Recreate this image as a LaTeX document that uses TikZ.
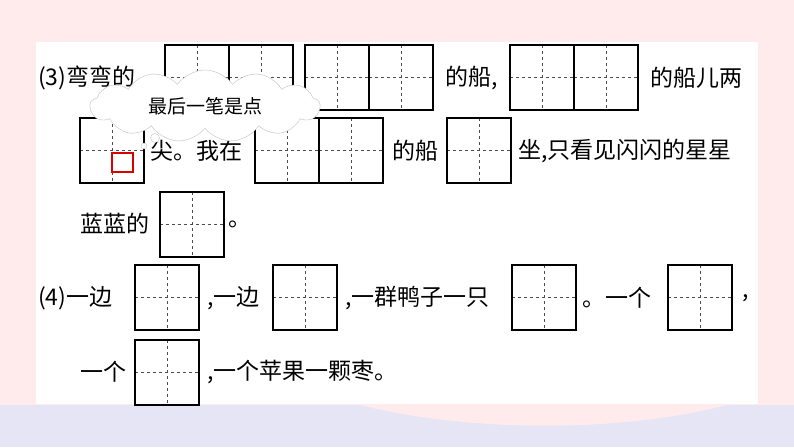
\documentclass[tikz,border=0pt]{standalone}
\usepackage{fontspec}
\setmainfont{Liberation Serif}
\newfontfamily\cjk{Noto Sans CJK SC}
\usetikzlibrary{positioning,shapes.symbols}
\tikzstyle{txt}=[anchor=west,inner sep=0pt,font=\cjk\fontsize{23}{23}\selectfont]
\tikzstyle{cell}=[draw=black,line width=1.1pt]
\tikzstyle{guide}=[draw=black!70,dashed,line width=0.5pt]
\tikzstyle{bubble}=[cloud,cloud puffs=13,cloud puff arc=110,aspect=3.4,draw=black!25,fill=white,
  font=\cjk\fontsize{19}{19}\selectfont,inner sep=2pt]
\newcommand{\tianzi}[4]{% name, left x, top y, cells
  \foreach \k in {1,...,#4}{
    \draw [guide] (#2+64*\k-32, #3) -- (#2+64*\k-32, #3+65);
    \draw [guide] (#2+64*\k-64, #3+32.5) -- (#2+64*\k, #3+32.5);
    \draw [cell] (#2+64*\k-64, #3) rectangle (#2+64*\k, #3+65);
  }
  \coordinate (#1) at (#2, #3);
}
\begin{document}
\begin{tikzpicture}[x=1pt,y=-1pt]
  \fill [red!8] (0,0) rectangle (794,447);
  \fill [cyan!25!blue!10] (0,405) rectangle (794,447);
  \fill [red!8] (360,405) .. controls (500,440) and (700,430) .. (794,380) -- (794,405) -- cycle;
  \fill [white] (36,42) rectangle (758,404);

  % row 1
  \node [txt] (r1a) at (38,78) {(3)弯弯的};
  \tianzi{b1}{165}{45}{2}
  \tianzi{b2}{305}{45}{2}
  \node [txt] (r1b) at (445,78) {的船,};
  \tianzi{b3}{510}{45}{2}
  \node [txt] (r1c) at (650,78) {的船儿两};

  % row 2
  \tianzi{b4}{80}{118}{1}
  \node [txt] (r2a) at (150,151) {尖。我在};
  \tianzi{b5}{255}{118}{2}
  \node [txt] (r2b) at (392,151) {的船};
  \tianzi{b6}{447}{118}{1}
  \node [txt] (r2c) at (518,151) {坐,只看见闪闪的星星};
  \draw [red!85!black,line width=2pt] (112,153) rectangle (133,172);

  % row 3
  \node [txt] (r3a) at (80,224) {蓝蓝的};
  \tianzi{b7}{160}{192}{1}
  \node [txt] (r3b) at (228,224) {。};

  % row 4
  \node [txt] (r4a) at (38,298) {(4)一边};
  \tianzi{b8}{135}{265}{1}
  \node [txt] (r4b) at (207,298) {,一边};
  \tianzi{b9}{273}{265}{1}
  \node [txt] (r4c) at (345,298) {,一群鸭子一只};
  \tianzi{b10}{512}{265}{1}
  \node [txt] (r4d) at (582,298) {。一个};
  \tianzi{b11}{668}{265}{1}
  \node [txt] (r4e) at (742,298) {,};

  % row 5
  \node [txt] (r5a) at (80,372) {一个};
  \tianzi{b12}{135}{340}{1}
  \node [txt] (r5b) at (207,372) {,一个苹果一颗枣。};

  % callout
  \node [bubble,minimum width=230pt,minimum height=72pt] (tip) at (205,106) {最后一笔是点};
  \node [circle,draw=black!25,fill=white,minimum size=9pt,inner sep=0pt] (p1) at (155,138) {};
  \node [circle,draw=black!25,fill=white,minimum size=6pt,inner sep=0pt] (p2) at (144,146) {};
\end{tikzpicture}
\end{document}
